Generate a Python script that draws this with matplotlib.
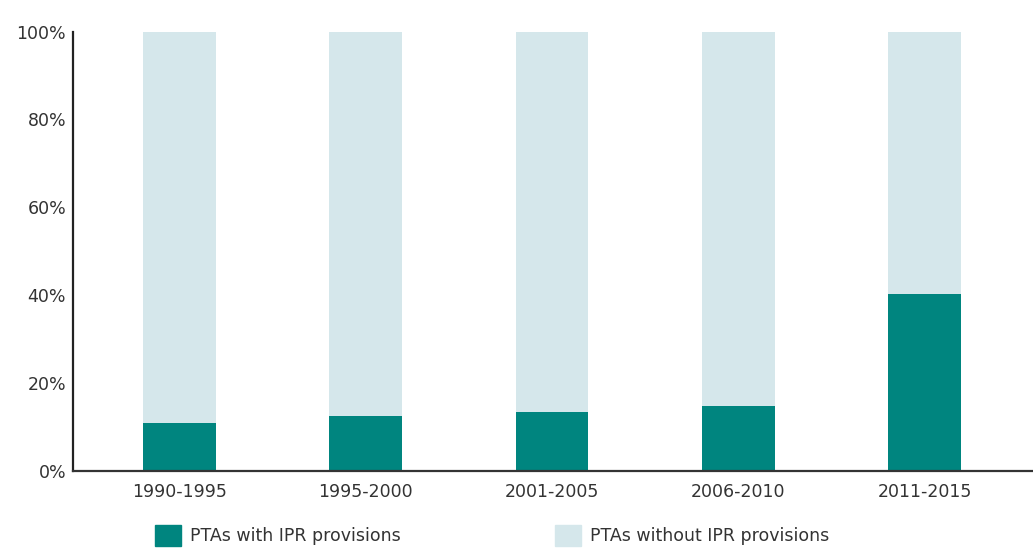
import matplotlib.pyplot as plt
import numpy as np
from matplotlib.patches import Patch

periods = ["1990-1995", "1995-2000", "2001-2005", "2006-2010", "2011-2015"]
with_ipr = [10.8, 12.4, 13.4, 14.7, 40.3]
without_ipr = [100 - v for v in with_ipr]
y_ticks = [0, 20, 40, 60, 80, 100]

teal = "#00857f"
light = "#d5e7eb"

fig = plt.figure(figsize=(10.33, 5.55), dpi=100)
ax = fig.add_axes([0.0707, 0.152, 0.929, 0.791])

x = np.arange(len(periods))
ax.bar(x, with_ipr, width=0.39, color=teal)
ax.bar(x, without_ipr, bottom=with_ipr, width=0.39, color=light)

ax.set_xlim(-0.57, 4.58)
ax.set_ylim(0, 100)
ax.set_yticks(y_ticks)
ax.set_yticklabels([f"{t}%" for t in y_ticks])
ax.set_xticks(x)
ax.set_xticklabels(periods)
ax.tick_params(length=0, labelsize=12.5, colors="#333333")
ax.tick_params(axis="x", pad=9)
ax.tick_params(axis="y", pad=5)
for s in ["top", "right"]:
    ax.spines[s].set_visible(False)
ax.spines["left"].set_linewidth(1.6)
ax.spines["bottom"].set_linewidth(1.6)
ax.spines["left"].set_color("#222222")
ax.spines["bottom"].set_color("#333333")

handles = [Patch(color=teal, label="PTAs with IPR provisions"),
           Patch(color=light, label="PTAs without IPR provisions")]
fig.legend(handles=handles, loc="lower left", bbox_to_anchor=(0.135, -0.012), ncol=2,
           frameon=False, fontsize=12.5, handlelength=1.5, handleheight=1.5,
           columnspacing=8.9, handletextpad=0.5, labelcolor="#333333")

fig.savefig("out.png", dpi=100)
